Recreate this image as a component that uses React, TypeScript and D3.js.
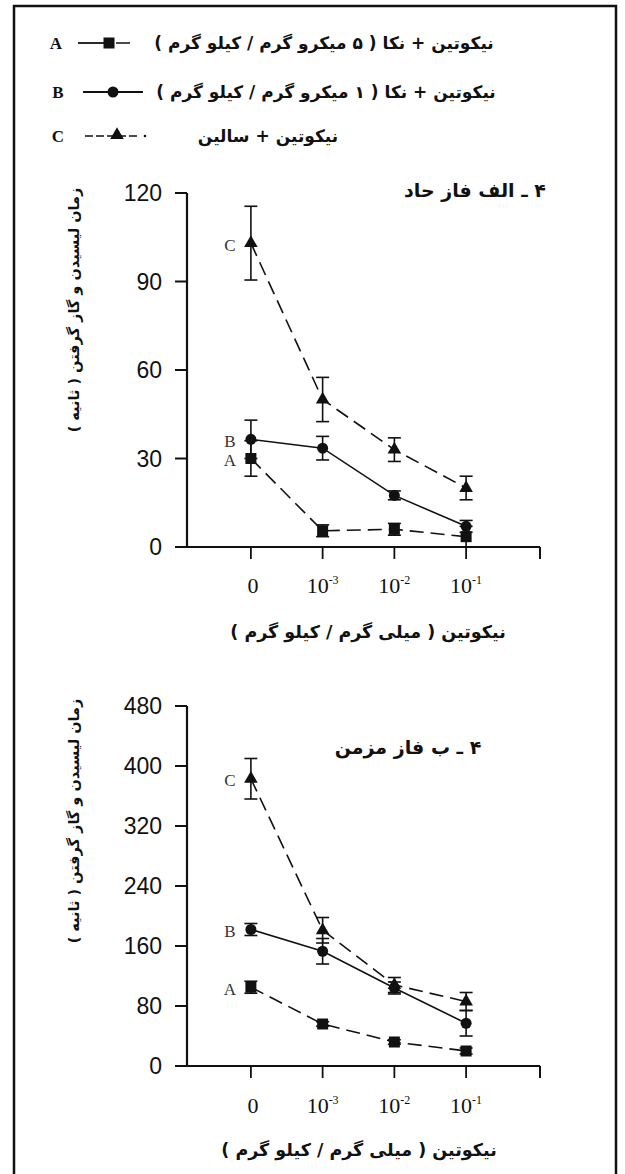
import React from "react";
import * as d3 from "d3";

// ---------- data ----------
const categories = ["0", "10^-3", "10^-2", "10^-1"];
const tickBase = ["0", "10", "10", "10"];
const tickExp = ["", "-3", "-2", "-1"];

const seriesLetters = ["A", "B", "C"];
const legendTexts = [
  "نیکوتین + نکا ( ۵ میکرو گرم / کیلو گرم )",
  "نیکوتین + نکا ( ۱ میکرو گرم / کیلو گرم )",
  "نیکوتین + سالین",
];

const acuteTitle = "۴ ـ الف فاز حاد";
const chronicTitle = "۴ ـ ب فاز مزمن";
const xAxisTitle = "نیکوتین ( میلی گرم / کیلو گرم )";
const yAxisTitle = "زمان لیسیدن و گاز گرفتن ( ثانیه )";

const acuteTicks = [0, 30, 60, 90, 120];
const acuteA = [30, 5.5, 6, 3.5];
const acuteAErr = [6, 2, 2, 3.5];
const acuteB = [36.5, 33.5, 17.5, 7];
const acuteBErr = [6.5, 4, 1.5, 2];
const acuteC = [103, 50, 33, 20];
const acuteCErr = [12.5, 7.5, 4, 4];

const chronicTicks = [0, 80, 160, 240, 320, 400, 480];
const chronicA = [105, 56, 32, 20];
const chronicAErr = [8, 3, 3, 4];
const chronicB = [182, 153, 104, 57];
const chronicBErr = [8, 17, 8, 17];
const chronicC = [383, 181, 108, 86];
const chronicCErr = [27, 17, 10, 12];

// ---------- layout ----------
const W = 625;
const H = 1174;
const X_LEFT = 177;
const X_RIGHT = 540;
const Y_AXIS_X = 187;
const INK = "#111";
const PERSIAN = "'DejaVu Sans', sans-serif";

const x = d3.scalePoint<string>().domain(categories).range([X_LEFT, X_RIGHT]).padding(1.03);

type Series = { values: number[]; errs: number[]; dash: string | null; marker: "square" | "circle" | "triangle" };

function Marker({ type, cx, cy }: { type: string; cx: number; cy: number }) {
  if (type === "square") return <rect x={cx - 5.5} y={cy - 5.5} width={11} height={11} fill={INK} />;
  if (type === "circle") return <circle cx={cx} cy={cy} r={5.5} fill={INK} />;
  const p = d3.symbol().type(d3.symbolTriangle).size(80)();
  return <path d={p || ""} transform={`translate(${cx},${cy})`} fill={INK} />;
}

function Panel(props: {
  yTop: number;
  yBottom: number;
  ticks: number[];
  series: Series[];
  title: string;
  titleX: number;
  titleY: number;
  xTitleX: number;
  xTitleY: number;
  yTitleY: number;
  tickLabelY: number;
}) {
  const { yTop, yBottom, ticks, series } = props;
  const y = d3.scaleLinear().domain([0, ticks[ticks.length - 1]]).range([yBottom, yTop]);
  const line = d3
    .line<number>()
    .x((_, i) => x(categories[i]) as number)
    .y((v) => y(v));
  return (
    <g>
      {/* y axis */}
      <line x1={Y_AXIS_X} x2={Y_AXIS_X} y1={y(ticks[ticks.length - 1])} y2={yBottom} stroke={INK} strokeWidth={2.2} />
      {ticks.map((t) => (
        <g key={t}>
          <line x1={Y_AXIS_X - 12} x2={Y_AXIS_X} y1={y(t)} y2={y(t)} stroke={INK} strokeWidth={2} />
          <text
            x={162}
            y={y(t)}
            textAnchor="end"
            dominantBaseline="central"
            fontFamily="'Liberation Sans', Arial, sans-serif"
            fontSize={23}
            fill={INK}
          >
            {t}
          </text>
        </g>
      ))}
      {/* x axis */}
      <line x1={X_LEFT} x2={X_RIGHT} y1={yBottom} y2={yBottom} stroke={INK} strokeWidth={2.2} />
      <line x1={X_RIGHT} x2={X_RIGHT} y1={yBottom} y2={yBottom + 12} stroke={INK} strokeWidth={2} />
      {categories.map((c, i) => (
        <g key={c}>
          <line x1={x(c)} x2={x(c)} y1={yBottom} y2={yBottom + 12} stroke={INK} strokeWidth={1.8} />
          <text
            x={(x(c) as number) + (i === 0 ? 2 : 0)}
            y={props.tickLabelY}
            textAnchor="middle"
            fontFamily="'Liberation Serif', 'Times New Roman', serif"
            fontSize={22}
            fill={INK}
          >
            {tickBase[i]}
            {tickExp[i] && (
              <tspan dy={-9} fontSize={12}>
                {tickExp[i]}
              </tspan>
            )}
          </text>
        </g>
      ))}
      {/* series lines */}
      {series.map((s, k) => (
        <path
          key={"l" + k}
          d={line(s.values) || ""}
          fill="none"
          stroke={INK}
          strokeWidth={1.6}
          strokeDasharray={s.dash || undefined}
        />
      ))}
      {/* error bars */}
      {series.map((s, k) =>
        s.values.map((v, i) => {
          const cx = x(categories[i]) as number;
          const y1 = y(v + s.errs[i]);
          const y2 = y(Math.max(0, v - s.errs[i]));
          return (
            <g key={"e" + k + "-" + i} stroke={INK} strokeWidth={1.6}>
              <line x1={cx} x2={cx} y1={y1} y2={y2} />
              <line x1={cx - 6.5} x2={cx + 6.5} y1={y1} y2={y1} />
              <line x1={cx - 6.5} x2={cx + 6.5} y1={y2} y2={y2} />
            </g>
          );
        })
      )}
      {/* markers */}
      {series.map((s, k) =>
        s.values.map((v, i) => (
          <Marker key={"m" + k + "-" + i} type={s.marker} cx={x(categories[i]) as number} cy={y(v)} />
        ))
      )}
      {/* series letters */}
      {series.map((s, k) => (
        <text
          key={"t" + k}
          x={(x(categories[0]) as number) - 21}
          y={y(s.values[0]) + 2}
          textAnchor="middle"
          dominantBaseline="central"
          fontFamily="'Liberation Serif', serif"
          fontSize={17}
          fill="#333"
        >
          {seriesLetters[k]}
        </text>
      ))}
      {/* titles */}
      <text
        x={props.titleX}
        y={props.titleY}
        textAnchor="middle"
        dominantBaseline="central"
        fontFamily={PERSIAN}
        fontWeight="bold"
        fontSize={19}
        fill={INK}
        style={{ direction: "rtl" }}
      >
        {props.title}
      </text>
      <text
        x={props.xTitleX}
        y={props.xTitleY}
        textAnchor="middle"
        dominantBaseline="central"
        fontFamily={PERSIAN}
        fontWeight="bold"
        fontSize={17.5}
        fill={INK}
        style={{ direction: "rtl" }}
      >
        {xAxisTitle}
      </text>
      <text
        transform={`translate(74,${props.yTitleY}) rotate(-90)`}
        textAnchor="middle"
        dominantBaseline="central"
        fontFamily={PERSIAN}
        fontWeight="bold"
        fontSize={14.5}
        fill={INK}
        style={{ direction: "rtl" }}
      >
        {yAxisTitle}
      </text>
    </g>
  );
}

function Legend() {
  const rows = [
    { y: 43, letterX: 56, textX: 324 },
    { y: 92, letterX: 58, textX: 326 },
    { y: 136, letterX: 58, textX: 268 },
  ];
  return (
    <g>
      {rows.map((r, k) => (
        <g key={k}>
          <text
            x={r.letterX}
            y={r.y}
            textAnchor="middle"
            dominantBaseline="central"
            fontFamily="'Liberation Serif', serif"
            fontWeight="bold"
            fontSize={17}
            fill={INK}
          >
            {seriesLetters[k]}
          </text>
          <text
            x={r.textX}
            y={r.y}
            textAnchor="middle"
            dominantBaseline="central"
            fontFamily={PERSIAN}
            fontWeight="bold"
            fontSize={17}
            fill={INK}
            style={{ direction: "rtl" }}
          >
            {legendTexts[k]}
          </text>
        </g>
      ))}
      {/* A: solid - square - short dash */}
      <line x1={78} x2={105} y1={rows[0].y} y2={rows[0].y} stroke={INK} strokeWidth={1.8} />
      <Marker type="square" cx={109} cy={rows[0].y} />
      <line x1={116} x2={130} y1={rows[0].y} y2={rows[0].y} stroke={INK} strokeWidth={1.5} />
      {/* B: solid - circle - solid */}
      <line x1={83} x2={143} y1={rows[1].y} y2={rows[1].y} stroke={INK} strokeWidth={1.8} />
      <Marker type="circle" cx={113} cy={rows[1].y} />
      {/* C: dashed - triangle - dashed - dot */}
      <line x1={85} x2={137} y1={rows[2].y} y2={rows[2].y} stroke={INK} strokeWidth={1.5} strokeDasharray="8,3" />
      <Marker type="triangle" cx={117} cy={rows[2].y - 1} />
      <circle cx={145} cy={rows[2].y} r={1.3} fill={INK} />
    </g>
  );
}

export default function App() {
  const acuteSeries: Series[] = [
    { values: acuteA, errs: acuteAErr, dash: "14,7", marker: "square" },
    { values: acuteB, errs: acuteBErr, dash: null, marker: "circle" },
    { values: acuteC, errs: acuteCErr, dash: "14,7", marker: "triangle" },
  ];
  const chronicSeries: Series[] = [
    { values: chronicA, errs: chronicAErr, dash: "14,7", marker: "square" },
    { values: chronicB, errs: chronicBErr, dash: null, marker: "circle" },
    { values: chronicC, errs: chronicCErr, dash: "14,7", marker: "triangle" },
  ];
  return (
    <svg
      width={W}
      height={H}
      viewBox={`0 0 ${W} ${H}`}
      style={{ position: "absolute", left: 0, top: 0, display: "block", background: "#fff" }}
    >
      <rect x={0} y={0} width={W} height={H} fill="#fff" />
      <rect x={14} y={6} width={602} height={1190} fill="none" stroke={INK} strokeWidth={2.5} />
      <Legend />
      <Panel
        yTop={193}
        yBottom={547}
        ticks={acuteTicks}
        series={acuteSeries}
        title={acuteTitle}
        titleX={475}
        titleY={190}
        xTitleX={368}
        xTitleY={632}
        yTitleY={310}
        tickLabelY={593}
      />
      <Panel
        yTop={706}
        yBottom={1066}
        ticks={chronicTicks}
        series={chronicSeries}
        title={chronicTitle}
        titleX={408}
        titleY={747}
        xTitleX={359}
        xTitleY={1150}
        yTitleY={821}
        tickLabelY={1113}
      />
    </svg>
  );
}
